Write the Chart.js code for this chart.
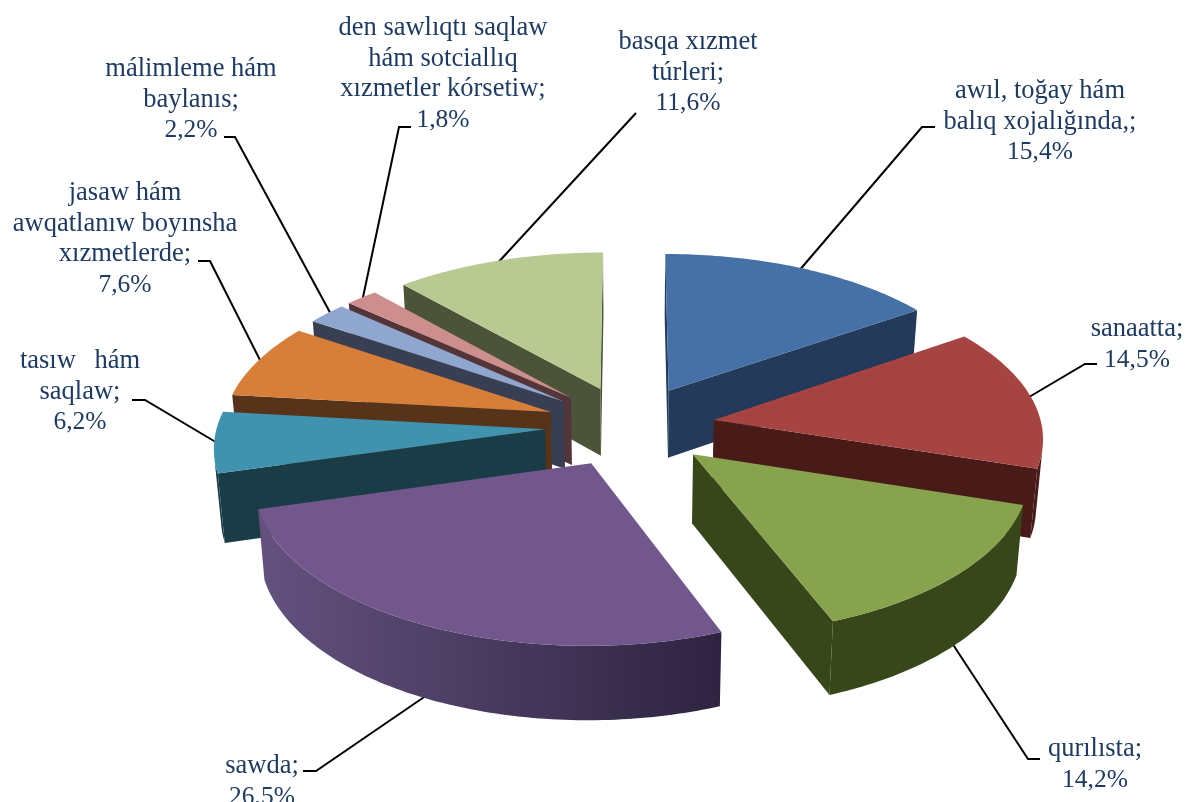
<!DOCTYPE html>
<html><head><meta charset="utf-8">
<style>html,body{margin:0;padding:0;background:#fff}canvas{display:block}</style>
<script src="https://cdn.jsdelivr.net/npm/chart.js@4"></script>
</head><body><canvas id="c" width="1185" height="802"></canvas>
<script>
const categories = [
  ["awıl, toğay hám","balıq xojalığında,;"],
  ["sanaatta;"],
  ["qurılısta;"],
  ["sawda;"],
  ["tasıw hám","saqlaw;"],
  ["jasaw hám","awqatlanıw boyınsha","xızmetlerde;"],
  ["málimleme hám","baylanıs;"],
  ["den sawlıqtı saqlaw","hám sotciallıq","xızmetler kórsetiw;"],
  ["basqa xızmet","túrleri;"]
];
const values = [15.4,14.5,14.2,26.5,6.2,7.6,2.2,1.8,11.6];
const topColors  = ["#4571A6","#A54441","#87A34D","#71578C","#3F93AE","#D77F39","#8FA7CF","#CC8F8E","#B8CA92"];
const sideLeft   = ["#233A5A","#481B18","#384719","#64527F","#193C47","#57331A","#383F52","#533539","#4B5339"];
const sideRight  = ["#233A5A","#481B18","#384719","#2D2340","#193C47","#57331A","#383F52","#533539","#4B5339"];

// label layout: centre x, first baseline y, word gap, leader polyline
const labelLayout = [
  {x:1040,y:98, gap:0,  leader:[[935,127],[922,127],[798,272]]},
  {x:1137,y:336,gap:0,  leader:[[1097,364],[1085,364],[1024,400]]},
  {x:1095,y:756,gap:0,  leader:[[1040,759],[1028,759],[950,640]]},
  {x:262, y:773,gap:0,  leader:[[303,771],[316,771],[430,693]]},
  {x:80,  y:368,gap:12, leader:[[132,400],[145,400],[219,444]]},
  {x:125, y:200,gap:0,  leader:[[198,261],[210,261],[263,366]]},
  {x:191, y:76, gap:0,  leader:[[224,137],[235,137],[333,318]]},
  {x:443, y:35, gap:0,  leader:[[411,127],[399,127],[362,302]]},
  {x:688, y:49, gap:0,  leader:[[636,113],[494,267]]}
];
const TILT=0.478, PERSP=0.0003, DEPTH=68, DEPTH_EXP=0.7, TAPER=0.017, LINE=30.7;
const TEXT="#1F3B63";

const pie3d = {
  id:"pie3d",
  beforeDatasetsDraw(chart){
    const ctx=chart.ctx;
    ctx.save();
    ctx.strokeStyle="#000";ctx.lineWidth=2;ctx.lineJoin="miter";
    labelLayout.forEach(l=>{ctx.beginPath();
      l.leader.forEach((p,i)=>i?ctx.lineTo(p[0],p[1]):ctx.moveTo(p[0],p[1]));ctx.stroke();});
    ctx.restore();
  },
  beforeDatasetDraw(chart,args){
    const ctx=chart.ctx, meta=args.meta;
    const cx=meta.data[0].x, cy=meta.data[0].y;
    const P=(px,py,z)=>{
      const X=px-cx,Y=py-cy,s=1/(1-PERSP*Y);
      return [cx+X*s*(1-TAPER*z), cy+Y*TILT*s+z*DEPTH*Math.pow(s,DEPTH_EXP)];
    };
    const order=meta.data.map((a,i)=>i).sort((i,j)=>{
      const m=a=>Math.sin((a.startAngle+a.endAngle)/2);
      return m(meta.data[i])-m(meta.data[j]);
    });
    const visible=(a,b)=>{
      const q=[P(a[0],a[1],0),P(b[0],b[1],0),P(b[0],b[1],1),P(a[0],a[1],1)];
      let area=0;for(let i=0;i<4;i++){const u=q[i],v=q[(i+1)%4];area+=u[0]*v[1]-v[0]*u[1];}
      return area<0;
    };
    const poly=(q,fill)=>{
      ctx.beginPath();q.forEach((p,i)=>i?ctx.lineTo(p[0],p[1]):ctx.moveTo(p[0],p[1]));ctx.closePath();
      ctx.fillStyle=fill;ctx.fill();
    };
    const face=(a,b,fill)=>{ if(visible(a,b)) poly([P(a[0],a[1],0),P(b[0],b[1],0),P(b[0],b[1],1),P(a[0],a[1],1)],fill); };
    order.forEach(i=>{
      const arc=meta.data[i], o=arc.options, mid=(arc.startAngle+arc.endAngle)/2;
      const ax=arc.x+Math.cos(mid)*o.offset, ay=arc.y+Math.sin(mid)*o.offset;
      const R=arc.outerRadius, pts=[];
      const n=Math.max(8,Math.ceil((arc.endAngle-arc.startAngle)*180/Math.PI));
      for(let k=0;k<=n;k++){const t=arc.startAngle+(arc.endAngle-arc.startAngle)*k/n;
        pts.push([ax+R*Math.cos(t),ay+R*Math.sin(t)]);}
      const apex=[ax,ay];
      face(apex,pts[0],sideLeft[i]);
      face(pts[n],apex,sideLeft[i]);
      // outer wall: one polygon for each run of visible segments
      const grad=ctx.createLinearGradient(255,0,725,0);
      grad.addColorStop(0,sideLeft[i]);grad.addColorStop(1,sideRight[i]);
      let run=[];
      const flush=()=>{ if(run.length>1){
          const top=run.map(p=>P(p[0],p[1],0)), bot=run.map(p=>P(p[0],p[1],1)).reverse();
          poly(top.concat(bot),grad);
        } run=[]; };
      for(let k=0;k<n;k++){
        if(visible(pts[k],pts[k+1])){ if(!run.length)run.push(pts[k]); run.push(pts[k+1]); }
        else flush();
      }
      flush();
      poly([P(ax,ay,0)].concat(pts.map(p=>P(p[0],p[1],0))),o.backgroundColor);
    });
    return false;
  },
  afterDraw(chart){
    const ctx=chart.ctx;
    ctx.save();
    ctx.fillStyle=TEXT;ctx.textAlign="center";ctx.textBaseline="alphabetic";
    categories.forEach((lines,i)=>{
      const l=labelLayout[i];
      ctx.font='26.5px "Liberation Serif"';
      ctx.wordSpacing=l.gap+"px";
      lines.forEach((t,k)=>ctx.fillText(t,l.x,l.y+k*LINE));
      ctx.wordSpacing="0px";
      ctx.font='25.5px "Liberation Serif"';
      ctx.fillText(values[i].toFixed(1).replace(".",",")+"%",l.x,l.y+lines.length*LINE);
    });
    ctx.restore();
  }
};

new Chart(document.getElementById("c"),{
  type:"pie",
  data:{labels:categories.map(c=>c.join(" ")),
    datasets:[{data:values,backgroundColor:topColors,borderWidth:0,offset:85}]},
  options:{responsive:false,animation:false,radius:328,
    layout:{padding:{left:75,top:50}},
    plugins:{legend:{display:false},tooltip:{enabled:false}}},
  plugins:[pie3d]
});
</script></body></html>
